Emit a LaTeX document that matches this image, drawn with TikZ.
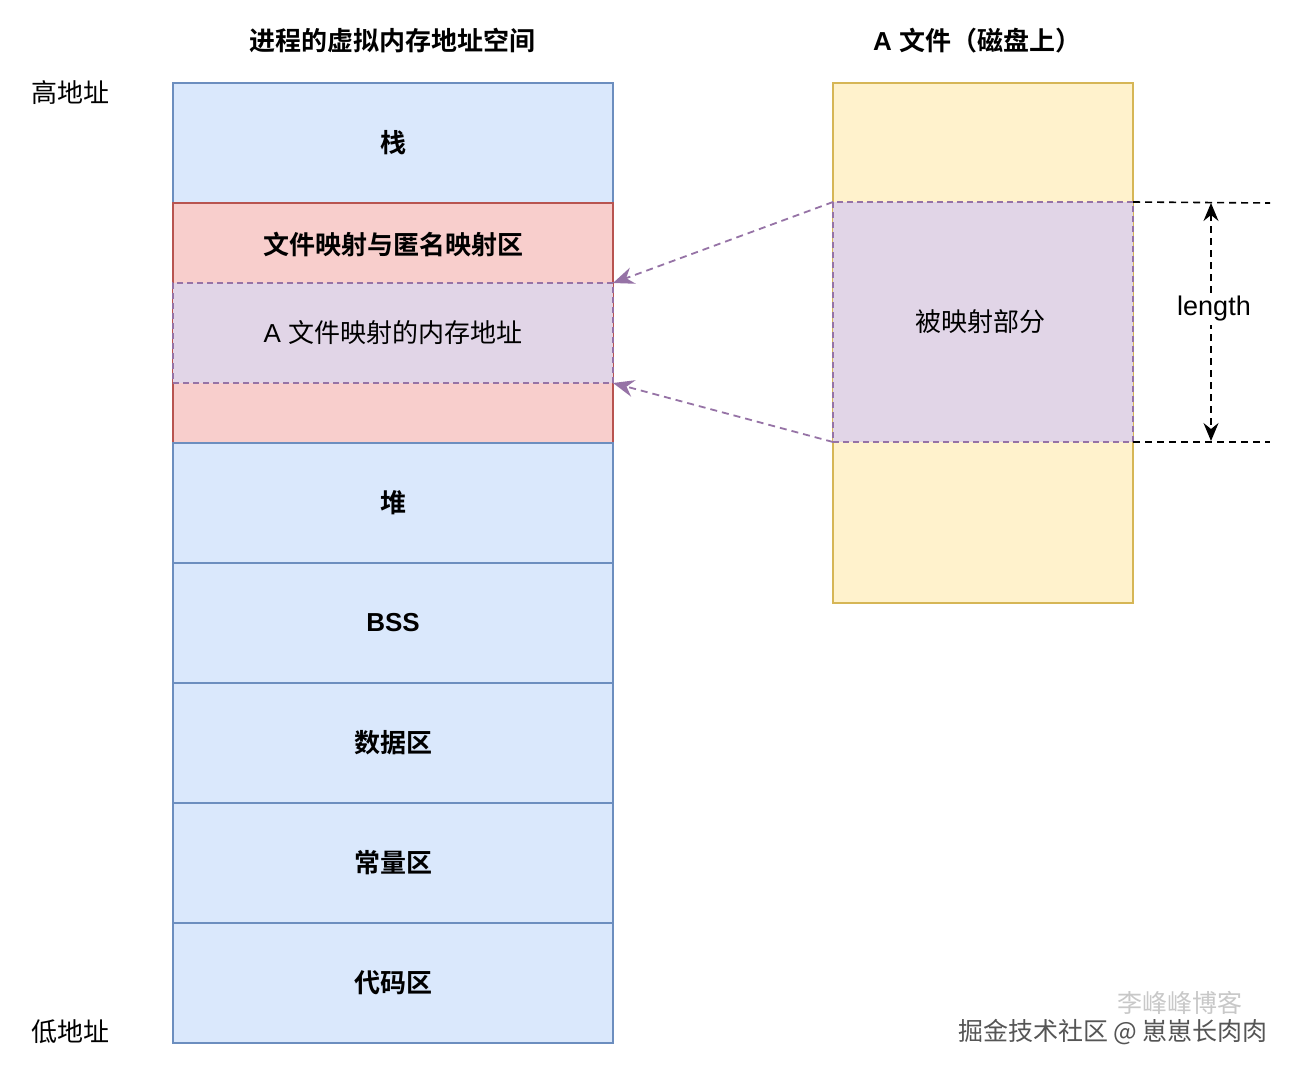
\documentclass[tikz,border=0pt]{standalone}
\usepackage{fontspec}
\setmainfont{Liberation Sans}
\newfontfamily\cjk{Noto Sans CJK SC}[BoldFont={* Bold}]
\usetikzlibrary{arrows.meta}
\definecolor{bluefill}{HTML}{DAE8FC}
\definecolor{bluedraw}{HTML}{6C8EBF}
\definecolor{redfill}{HTML}{F8CECC}
\definecolor{reddraw}{HTML}{B85450}
\definecolor{purfill}{HTML}{E1D5E7}
\definecolor{purdraw}{HTML}{9673A6}
\definecolor{yelfill}{HTML}{FFF2CC}
\definecolor{yeldraw}{HTML}{D6B656}
\definecolor{wmgray}{HTML}{555555}
\definecolor{wmlight}{HTML}{C8C8C8}
\tikzset{
  blk/.style={rectangle, draw=bluedraw, fill=bluefill, line width=1.5pt, minimum width=440pt, minimum height=120pt, inner sep=0pt, outer sep=0pt, font=\fontsize{26}{30}\selectfont\cjk\bfseries},
  redblk/.style={rectangle, draw=reddraw, fill=redfill, line width=1.5pt, minimum width=440pt, minimum height=240pt, inner sep=0pt, outer sep=0pt},
  purblk/.style={rectangle, draw=purdraw, fill=purfill, line width=1.5pt, dash pattern=on 6pt off 4pt, inner sep=0pt, outer sep=0pt},
  yelblk/.style={rectangle, draw=yeldraw, fill=yelfill, line width=1.5pt, minimum width=300pt, minimum height=520pt, inner sep=0pt, outer sep=0pt},
  lbl/.style={font=\fontsize{26}{30}\selectfont\cjk, inner sep=0pt},
  blbl/.style={font=\fontsize{26}{30}\selectfont\cjk\bfseries, inner sep=0pt},
  maparrow/.style={draw=purdraw, line width=1.8pt, dash pattern=on 7pt off 5pt, -{Stealth[length=21pt,width=17pt,inset=7pt]}},
  blkdash/.style={draw=black, line width=1.6pt, dash pattern=on 7pt off 5pt},
  dimarrow/.style={draw=black, line width=1.6pt, dash pattern=on 7pt off 5pt, {Stealth[length=18pt,width=15pt,inset=6pt]}-{Stealth[length=18pt,width=15pt,inset=6pt]}},
}
\begin{document}
\begin{tikzpicture}[x=1pt,y=-1pt]
\useasboundingbox[fill=white] (0,0) rectangle (1296,1074);
% titles
\node[blbl] (t1) at (392,41) {进程的虚拟内存地址空间};
\node[blbl] (t2) at (977,41) {\rmfamily\bfseries A {\cjk\bfseries 文件（磁盘上）}};
\node[lbl] (hi) at (70,93) {高地址};
\node[lbl] (lo) at (70,1032) {低地址};
% left column
\node[blk] (stack) at (393,143) {栈};
\node[redblk] (mmap) at (393,323) {};
\node[blbl] (mmaptxt) at (393,245) {文件映射与匿名映射区};
\node[purblk, minimum width=440pt, minimum height=100pt] (amap) at (393,333) {};
\node[lbl] (amaptxt) at (393,333) {\rmfamily A {\cjk 文件映射的内存地址}};
\node[blk] (heap) at (393,503) {堆};
\node[blk] (bss) at (393,623) {\rmfamily\bfseries BSS};
\node[blk] (data) at (393,743) {数据区};
\node[blk] (const) at (393,863) {常量区};
\node[blk] (code) at (393,983) {代码区};
% right file
\node[yelblk] (file) at (983,343) {};
\node[purblk, minimum width=300pt, minimum height=240pt] (mapped) at (983,322) {};
\node[lbl] (mappedtxt) at (980,322) {被映射部分};
% mapping arrows
\draw[maparrow] (mapped.north west) -- (amap.north east);
\draw[maparrow] (mapped.south west) -- (amap.south east);
% length dimension
\coordinate (lt) at (1270,203);
\coordinate (lb) at (1270,442);
\coordinate (at) at (1211,203);
\coordinate (ab) at (1211,441);
\draw[blkdash] (mapped.north east) -- (lt);
\draw[blkdash] (mapped.south east) -- (lb);
\draw[dimarrow] (at) -- (ab);
\node[fill=white, inner sep=3pt, font=\fontsize{27}{30}\selectfont] (len) at (1214,309) {length};
% watermark
\node[font=\fontsize{25}{28}\selectfont\cjk, text=wmlight, inner sep=0pt] (wm1) at (1180,1003) {李峰峰博客};
\node[font=\fontsize{25}{28}\selectfont\cjk, text=white, inner sep=0pt] (wm2s) at (1114.5,1033.5) {掘金技术社区 @ 崽崽长肉肉};
\node[font=\fontsize{25}{28}\selectfont\cjk, text=wmgray, inner sep=0pt] (wm2) at (1113,1032) {掘金技术社区 @ 崽崽长肉肉};
\end{tikzpicture}
\end{document}
